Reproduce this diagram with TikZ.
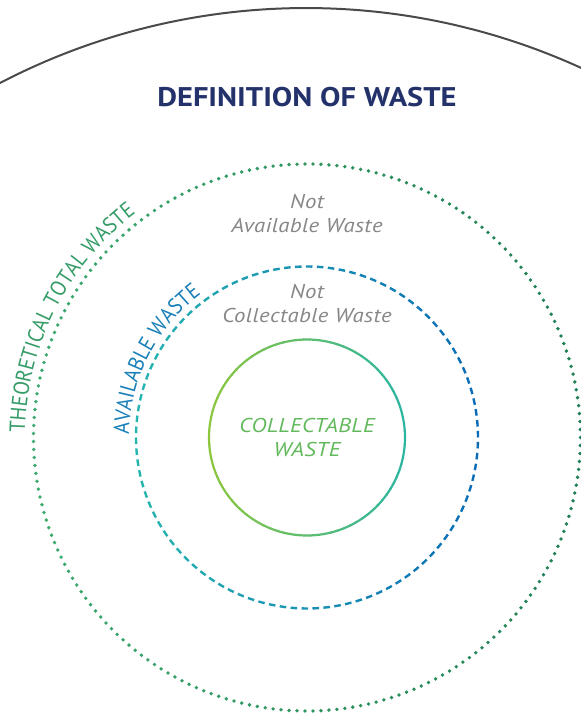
\documentclass[tikz,border=0pt]{standalone}
\usepackage{fontspec}
\setmainfont{PT Sans}
\newfontfamily\headfont[FakeStretch=1.13]{PT Sans}
\newfontfamily\labelfont[FakeStretch=1.14,LetterSpace=2]{PT Sans}
\newfontfamily\ringtextfont[FakeStretch=0.92]{PT Sans}
\usepackage{tikz}
\usetikzlibrary{positioning,decorations.text}
\definecolor{navy}{HTML}{24326B}
\definecolor{arcgray}{HTML}{4A4A4A}
\definecolor{labelgray}{HTML}{878787}
\definecolor{totalL}{HTML}{3DAA6E}
\definecolor{totalR}{HTML}{1F7F55}
\definecolor{availL}{HTML}{27B5B0}
\definecolor{availR}{HTML}{0A6BB6}
\definecolor{collL}{HTML}{8DC63F}
\definecolor{collR}{HTML}{2BB5A2}
\definecolor{colltext}{HTML}{62B95C}
\definecolor{totaltext}{HTML}{359C68}
\definecolor{availtext}{HTML}{1A80B8}
\newcommand{\ringfont}{\ringtextfont\fontsize{22}{24}\selectfont}
\tikzset{
  heading/.style={font=\headfont\bfseries\fontsize{27}{30}\selectfont,text=navy},
  ringlabel/.style={font=\labelfont\itshape\fontsize{20}{24}\selectfont,text=labelgray,align=center},
  corelabel/.style={font=\labelfont\itshape\fontsize{20}{24}\selectfont,text=colltext,align=center},
  outerline/.style={draw=arcgray,line width=2pt},
  dashbit/.style={line width=2.4pt},
  solidbit/.style={line width=2.2pt}
}

\begin{document}
\begin{tikzpicture}[x=1pt,y=1pt]
      \useasboundingbox (0,0) rectangle (581,715);
      \coordinate (centre) at (307,277.5);
      \coordinate (bigc) at (306,45);
      % top arc
      \begin{scope}
        \clip (0,0) rectangle (581,715);
        \draw[outerline] (bigc) ++(117.6:662) arc[start angle=117.6,end angle=65.4,radius=662];
      \end{scope}
      \node[heading] (title) at (307,617.5) {DEFINITION OF WASTE};
      % theoretical total waste, dotted
      \foreach \i in {0,...,214}{
        \pgfmathsetmacro{\a}{\i*1.674419}
        \pgfmathtruncatemacro{\p}{50*(1+cos(\a))}
        \fill[totalR!\p!totalL] (centre) ++(\a:273.5) circle[radius=1.9];
      }
      % available waste, dashed
      \foreach \i in {0,...,97}{
        \pgfmathsetmacro{\a}{\i*3.673469}
        \pgfmathtruncatemacro{\p}{50*(1+cos(\a))}
        \draw[dashbit,availR!\p!availL] (centre) ++(\a:171) arc[start angle=\a,end angle=\a+2.2,radius=171];
      }
      % collectable waste, solid
      \foreach \i in {0,...,89}{
        \pgfmathsetmacro{\a}{\i*4}
        \pgfmathtruncatemacro{\p}{50*(1+cos(\a+2))}
        \draw[solidbit,collR!\p!collL] (centre) ++(\a:98) arc[start angle=\a,end angle=\a+4.4,radius=98];
      }
      % labels on the rings
      \path[decorate,decoration={text along path,text color=totaltext,
        text={|\ringfont|THEORETICAL TOTAL WASTE}}]
        (centre) ++(179:282) arc[start angle=179,end angle=100,radius=282];
      \path[decorate,decoration={text along path,text color=availtext,
        text={|\ringfont|AVAILABLE WASTE}}]
        (centre) ++(179:178) arc[start angle=179,end angle=100,radius=178];
      \node[ringlabel] (notavail) at (307,501) {Not\\Available Waste};
      \node[ringlabel] (notcoll) at (307,411) {Not\\Collectable Waste};
      \node[corelabel] (coll) at (centre) {COLLECTABLE\\WASTE};
    \end{tikzpicture}
\end{document}
